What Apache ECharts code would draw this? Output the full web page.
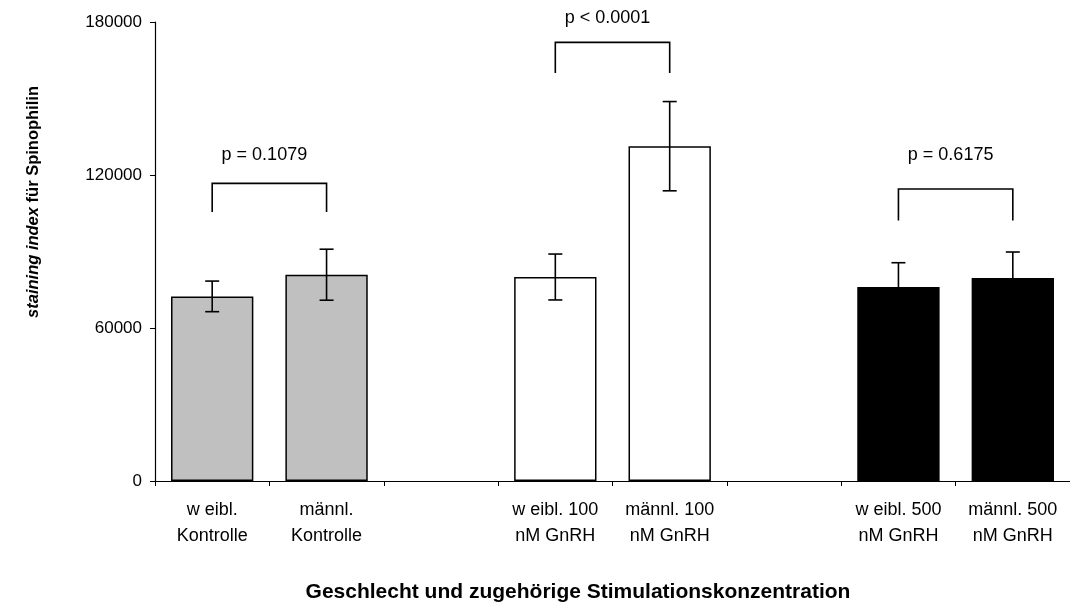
<!DOCTYPE html>
<html>
<head>
<meta charset="utf-8">
<script src="https://cdn.jsdelivr.net/npm/echarts@6/dist/echarts.min.js"></script>
<style>
  html, body { margin: 0; padding: 0; background: #fff; }
  #chart { width: 1070px; height: 607px; }
</style>
</head>
<body>
<div id="chart"></div>
<script>
// Groups on the x axis (empty slots separate the three stimulation groups)
const categories = [
  'w eibl.\nKontrolle', 'männl.\nKontrolle', '',
  'w eibl. 100\nnM GnRH', 'männl. 100\nnM GnRH', '',
  'w eibl. 500\nnM GnRH', 'männl. 500\nnM GnRH'
];
// Mean staining index per group
const means = [72400, 80900, '-', 80000, 131300, '-', 76100, 79600];
// Error (± half range) per group
const errors = [6000, 10000, '-', 9000, 17500, '-', 9500, 10200];
// Y axis ticks
const yTicks = [0, 60000, 120000, 180000];

// Significance brackets: compared groups, bracket top, leg bottom, label level
const bracketFrom = [0, 3, 6];
const bracketTo = [1, 4, 7];
const bracketTop = [116700, 172000, 114500];
const bracketLeg = [105500, 160000, 102200];
const pLabelLevel = [127700, 181400, 127700];
const pLabels = ['p = 0.1079', 'p < 0.0001', 'p = 0.6175'];

// Fill per group: grey control, white 100 nM, black 500 nM
const fills = ['#c0c0c0', '#c0c0c0', '#fff', '#ffffff', '#ffffff', '#fff', '#000000', '#000000'];

const FONT = '"Liberation Sans", Arial, sans-serif';
const chart = echarts.init(document.getElementById('chart'), null, { renderer: 'canvas' });

const barData = means.map((v, i) => v === '-' ? '-' : {
  value: v,
  itemStyle: { color: fills[i], borderColor: '#000', borderWidth: 1.5 }
});
const errData = means.map((v, i) => v === '-' ? null : [i, v, errors[i]]).filter(Boolean);
const bracketData = bracketFrom.map((a, i) => [a, bracketTo[i], bracketTop[i], bracketLeg[i], pLabelLevel[i], i]);

chart.setOption({
  animation: false,
  backgroundColor: '#ffffff',
  grid: { left: 155, right: -3, top: 22, bottom: 126 },
  xAxis: {
    type: 'category',
    data: categories,
    axisLine: { lineStyle: { color: '#000', width: 1.2 } },
    axisTick: { show: true, length: 5, interval: 0, lineStyle: { color: '#000', width: 1 } },
    axisLabel: {
      interval: 0, margin: 16, color: '#000',
      fontFamily: FONT, fontSize: 18, lineHeight: 26
    },
    splitLine: { show: false }
  },
  yAxis: {
    type: 'value',
    min: yTicks[0], max: yTicks[yTicks.length - 1], interval: yTicks[1] - yTicks[0],
    axisLine: { show: true, lineStyle: { color: '#000', width: 1.2 } },
    axisTick: { show: true, length: 5, lineStyle: { color: '#000', width: 1 } },
    axisLabel: {
      margin: 13, color: '#000', fontFamily: FONT, fontSize: 17,
      formatter: (v) => String(v)
    },
    splitLine: { show: false }
  },
  series: [
    {
      type: 'bar',
      data: barData,
      barWidth: '72%'
    },
    {
      type: 'custom',
      data: errData,
      z: 5,
      renderItem: function (params, api) {
        const i = api.value(0), m = api.value(1), e = api.value(2);
        const hi = api.coord([i, m + e]);
        const lo = api.coord([i, m - e]);
        const cap = 7;
        const st = { stroke: '#000', lineWidth: 1.6 };
        return {
          type: 'group',
          children: [
            { type: 'line', shape: { x1: hi[0], y1: hi[1], x2: lo[0], y2: lo[1] }, style: st },
            { type: 'line', shape: { x1: hi[0] - cap, y1: hi[1], x2: hi[0] + cap, y2: hi[1] }, style: st },
            { type: 'line', shape: { x1: lo[0] - cap, y1: lo[1], x2: lo[0] + cap, y2: lo[1] }, style: st }
          ]
        };
      }
    },
    {
      type: 'custom',
      data: bracketData,
      clip: false,
      z: 5,
      renderItem: function (params, api) {
        const a = api.value(0), b = api.value(1);
        const top = api.value(2), leg = api.value(3), lab = api.value(4);
        const idx = api.value(5);
        const pA = api.coord([a, leg]), pAt = api.coord([a, top]);
        const pB = api.coord([b, leg]), pBt = api.coord([b, top]);
        const labY = api.coord([a, lab])[1];
        const labX = (pA[0] + pB[0]) / 2;
        return {
          type: 'group',
          children: [
            {
              type: 'polyline',
              shape: { points: [pA, pAt, pBt, pB] },
              style: { stroke: '#000', lineWidth: 1.6, fill: null }
            },
            {
              type: 'text',
              x: labX - 5, y: labY,
              style: {
                text: pLabels[idx], fill: '#000',
                font: '18px ' + FONT,
                align: 'center', verticalAlign: 'middle'
              }
            }
          ]
        };
      }
    }
  ],
  graphic: [
    {
      type: 'text',
      x: 33, y: 202,
      rotation: Math.PI / 2,
      style: {
        text: '{it|staining index} für Spinophilin',
        fill: '#000',
        font: 'bold 16.5px ' + FONT,
        align: 'center', verticalAlign: 'middle',
        rich: {
          it: { fontStyle: 'italic', fontWeight: 'bold', fontSize: 16.5, fontFamily: FONT, fill: '#000' }
        }
      }
    },
    {
      type: 'text',
      x: 578, y: 592,
      style: {
        text: 'Geschlecht und zugehörige Stimulationskonzentration',
        fill: '#000',
        font: 'bold 21px ' + FONT,
        align: 'center', verticalAlign: 'middle'
      }
    }
  ]
});
</script>
</body>
</html>
